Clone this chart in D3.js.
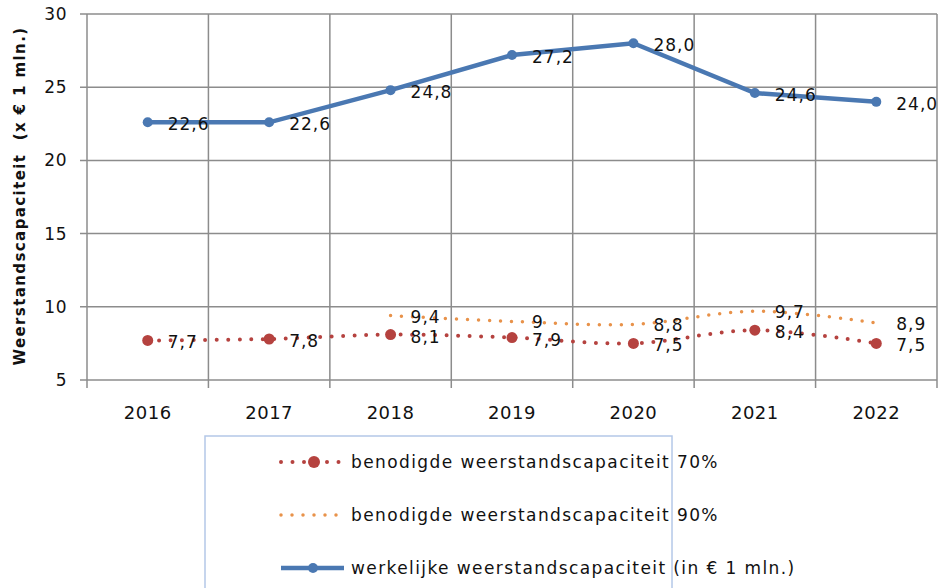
<!DOCTYPE html>
<html lang="nl">
<head>
<meta charset="UTF-8">
<script src="https://cdn.jsdelivr.net/npm/d3@7"></script>
<style>
  body { margin: 0; background: #fff; }
  text { font-family: "DejaVu Sans", sans-serif; fill: #111; }
</style>
</head>
<body>
<svg id="chart" width="943" height="588"></svg>
<script>
// data
var years = ["2016", "2017", "2018", "2019", "2020", "2021", "2022"];
var benodigd70 = [7.7, 7.8, 8.1, 7.9, 7.5, 8.4, 7.5];
var benodigd90 = [null, null, 9.4, 9, 8.8, 9.7, 8.9];
var werkelijk = [22.6, 22.6, 24.8, 27.2, 28.0, 24.6, 24.0];
var yTicks = [5, 10, 15, 20, 25, 30];

var svg = d3.select("#chart");
// plot area (let op: "top" is gereserveerd in de browser)
var pLeft = 87, pRight = 937, pTop = 14, pBottom = 380;

var x = d3.scaleBand().domain(years).range([pLeft, pRight]).padding(0);
var y = d3.scaleLinear().domain([5, 30]).range([pBottom, pTop]);
var cx = function (d) { return x(d) + x.bandwidth() / 2; };
var comma = function (v) { return String(v).replace(".", ","); };

// grid
var grid = svg.append("g");
grid.selectAll("line.h").data(yTicks).enter().append("line")
    .attr("x1", pLeft - 7).attr("x2", pRight)
    .attr("y1", function (d) { return y(d); }).attr("y2", function (d) { return y(d); })
    .attr("stroke", "#8c8c8c").attr("stroke-width", 1.5);
grid.selectAll("line.v").data(years.concat(["end"])).enter().append("line")
    .attr("x1", function (d, i) { return pLeft + i * x.bandwidth(); })
    .attr("x2", function (d, i) { return pLeft + i * x.bandwidth(); })
    .attr("y1", pTop).attr("y2", pBottom + 8)
    .attr("stroke", "#8c8c8c").attr("stroke-width", 1.5);

// y tick labels
svg.selectAll("text.yt").data(yTicks).enter().append("text")
    .attr("x", 67).attr("y", function (d) { return y(d) + 6; })
    .attr("text-anchor", "end").attr("font-size", "17px").attr("letter-spacing", "0.5px")
    .text(function (d) { return d; });

// x tick labels
svg.selectAll("text.xt").data(years).enter().append("text")
    .attr("x", cx).attr("y", 419)
    .attr("text-anchor", "middle").attr("font-size", "18px").attr("letter-spacing", "0.5px")
    .text(function (d) { return d; });

// y title
svg.append("text")
    .attr("transform", "translate(25," + 196 + ") rotate(-90)")
    .attr("text-anchor", "middle").attr("font-size", "15px").attr("font-weight", "bold")
    .attr("letter-spacing", "1.4px")
    .attr("xml:space", "preserve")
    .text("Weerstandscapaciteit  (x € 1 mln.)");

var red = "#b5423f", orange = "#e8924a", blue = "#4a78b2";

function pts(vals) {
    return years.map(function (d, i) { return { year: d, v: vals[i] }; })
        .filter(function (p) { return p.v !== null; });
}

var smooth = d3.line().x(function (p) { return cx(p.year); }).y(function (p) { return y(p.v); })
    .curve(d3.curveCatmullRom.alpha(0.5));
var straight = d3.line().x(function (p) { return cx(p.year); }).y(function (p) { return y(p.v); });

// 90% orange dotted
svg.append("path").datum(pts(benodigd90)).attr("d", smooth)
    .attr("fill", "none").attr("stroke", orange).attr("stroke-width", 3.5)
    .attr("stroke-linecap", "round").attr("stroke-dasharray", "0 11");

// 70% red dotted with markers
svg.append("path").datum(pts(benodigd70)).attr("d", smooth)
    .attr("fill", "none").attr("stroke", red).attr("stroke-width", 4)
    .attr("stroke-linecap", "round").attr("stroke-dasharray", "0 11.5");
svg.selectAll("circle.r").data(pts(benodigd70)).enter().append("circle")
    .attr("cx", function (p) { return cx(p.year); }).attr("cy", function (p) { return y(p.v); })
    .attr("r", 5.5).attr("fill", red);

// werkelijk blue
svg.append("path").datum(pts(werkelijk)).attr("d", straight)
    .attr("fill", "none").attr("stroke", blue).attr("stroke-width", 4.5);
svg.selectAll("circle.b").data(pts(werkelijk)).enter().append("circle")
    .attr("cx", function (p) { return cx(p.year); }).attr("cy", function (p) { return y(p.v); })
    .attr("r", 5).attr("fill", blue);

// data labels
function labels(vals, fmt, dy) {
    svg.append("g").selectAll("text").data(pts(vals)).enter().append("text")
        .attr("x", function (p) { return cx(p.year) + 20; })
        .attr("y", function (p) { return y(p.v) + dy; })
        .attr("font-size", "17px").attr("letter-spacing", "1px")
        .text(function (p) { return fmt(p.v); });
}
labels(werkelijk, function (v) { return comma(v.toFixed(1)); }, 8);
labels(benodigd70, comma, 8);
labels(benodigd90, comma, 7);

// legend
var lg = svg.append("g");
lg.append("rect").attr("x", 205).attr("y", 436).attr("width", 467).attr("height", 160)
    .attr("fill", "#fff").attr("stroke", "#b4c8e8").attr("stroke-width", 1.5);
var items = [
    { label: "benodigde weerstandscapaciteit 70%", kind: "red" },
    { label: "benodigde weerstandscapaciteit 90%", kind: "orange" },
    { label: "werkelijke weerstandscapaciteit (in € 1 mln.)", kind: "blue" }
];
items.forEach(function (it, i) {
    var yy = 462 + i * 53;
    var g = lg.append("g");
    if (it.kind === "red") {
        g.append("line").attr("x1", 281).attr("x2", 345).attr("y1", yy).attr("y2", yy)
            .attr("stroke", red).attr("stroke-width", 4).attr("stroke-linecap", "round")
            .attr("stroke-dasharray", "0 11.5");
        g.append("circle").attr("cx", 314).attr("cy", yy).attr("r", 6).attr("fill", red);
    } else if (it.kind === "orange") {
        g.append("line").attr("x1", 281).attr("x2", 338).attr("y1", yy).attr("y2", yy)
            .attr("stroke", orange).attr("stroke-width", 3.5).attr("stroke-linecap", "round")
            .attr("stroke-dasharray", "0 11");
    } else {
        g.append("line").attr("x1", 281).attr("x2", 344).attr("y1", yy).attr("y2", yy)
            .attr("stroke", blue).attr("stroke-width", 4.5);
        g.append("circle").attr("cx", 313).attr("cy", yy).attr("r", 5).attr("fill", blue);
    }
    g.append("text").attr("x", 351).attr("y", yy + 6).attr("font-size", "17px")
        .attr("letter-spacing", "1.4px").text(it.label);
});
</script>
</body>
</html>
